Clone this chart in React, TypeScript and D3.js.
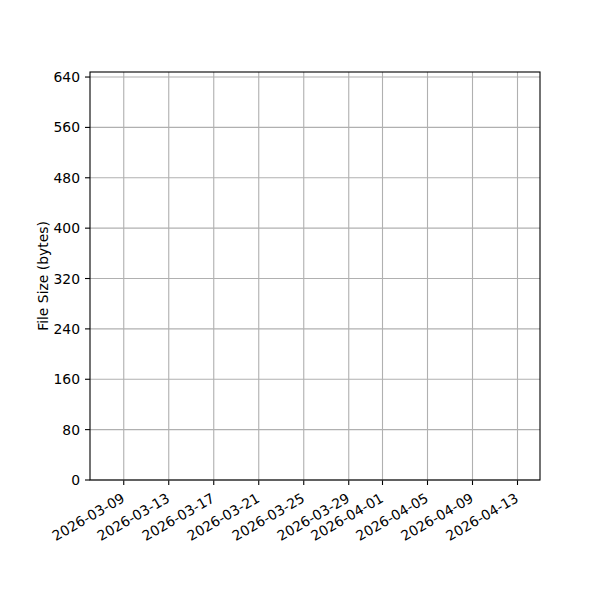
import * as d3 from 'd3'

// chart has no plotted records, only the axes frame
const fileSizes: { date: string; size: number }[] = []
const dateDomain = ['2026-03-06', '2026-04-15']
const xTickLabels = [
  '2026-03-09', '2026-03-13', '2026-03-17', '2026-03-21', '2026-03-25',
  '2026-03-29', '2026-04-01', '2026-04-05', '2026-04-09', '2026-04-13'
]
const yTicks = [0, 80, 160, 240, 320, 400, 480, 560, 640]
const yMax = 648
const yLabel = 'File Size (bytes)'

const width = 600
const height = 600
const margin = { top: 72, right: 60, bottom: 120, left: 90 }
const font = 'DejaVu Sans, sans-serif'

export default function App() {
  const innerWidth = width - margin.left - margin.right
  const innerHeight = height - margin.top - margin.bottom
  const parse = d3.utcParse('%Y-%m-%d')

  const x = d3.scaleUtc()
    .domain(dateDomain.map(d => parse(d) as Date))
    .range([0, innerWidth])
  const y = d3.scaleLinear().domain([0, yMax]).range([innerHeight, 0])

  return (
    <svg width={width} height={height} style={{ position: 'absolute', left: 0, top: 0, background: '#fff' }}>
      <g transform={`translate(${margin.left},${margin.top})`} fontFamily={font} fontSize={13.9}>
        {xTickLabels.map(t => {
          const px = x(parse(t) as Date)
          return (
            <g key={t}>
              <line x1={px} x2={px} y1={0} y2={innerHeight} stroke="#b0b0b0" strokeWidth={1.1} />
              <line x1={px} x2={px} y1={innerHeight} y2={innerHeight + 5} stroke="#000" strokeWidth={1.1} />
              <text
                transform={`translate(${px + 2},${innerHeight + 21}) rotate(-30)`}
                textAnchor="end"
                fill="#000"
              >{t}</text>
            </g>
          )
        })}
        {yTicks.map(t => {
          const py = y(t)
          return (
            <g key={t}>
              <line x1={0} x2={innerWidth} y1={py} y2={py} stroke="#b0b0b0" strokeWidth={1.1} />
              <line x1={-5} x2={0} y1={py} y2={py} stroke="#000" strokeWidth={1.1} />
              <text x={-10} y={py} dy="0.36em" textAnchor="end" fill="#000">{t}</text>
            </g>
          )
        })}
        {fileSizes.map(d => (
          <circle key={d.date} cx={x(parse(d.date) as Date)} cy={y(d.size)} r={3} fill="#1f77b4" />
        ))}
        <rect x={0} y={0} width={innerWidth} height={innerHeight} fill="none" stroke="#000" strokeWidth={1.1} />
        <text
          transform={`translate(${43 - margin.left},${innerHeight / 2}) rotate(-90)`}
          textAnchor="middle"
          dy="0.36em"
          fill="#000"
        >{yLabel}</text>
      </g>
    </svg>
  )
}
